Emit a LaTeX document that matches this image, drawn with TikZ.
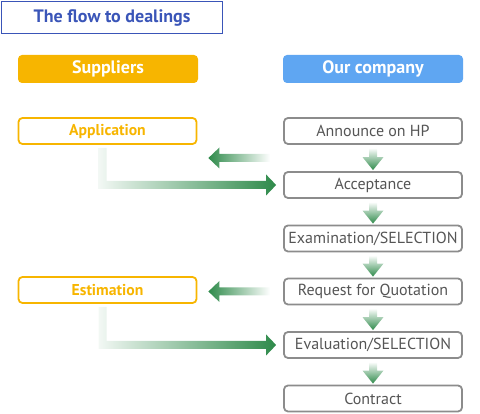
\documentclass[tikz,border=0pt]{standalone}
\usepackage{fontspec}
\setmainfont{PT Sans}
\usepackage{tikz}
\usetikzlibrary{calc}
\definecolor{titleblue}{HTML}{3A55B8}
\definecolor{supporange}{HTML}{F7B500}
\definecolor{comblue}{HTML}{5FA6F2}
\definecolor{boxgray}{HTML}{8C8C8C}
\definecolor{textgray}{HTML}{555555}
\definecolor{flowgreen}{HTML}{2E8A4A}
\tikzset{ head_box/.style = {rectangle, rounded corners=4pt, minimum width=180pt, minimum height=28pt, text=white, font=\fontsize{18}{20}\selectfont\bfseries} }
\tikzset{ supp_box/.style = {rectangle, rounded corners=4pt, draw=supporange, line width=1.8pt, minimum width=178pt, minimum height=26pt, text=supporange, font=\fontsize{15.7}{18}\selectfont\bfseries} }
\tikzset{ our_box/.style = {rectangle, rounded corners=4pt, draw=boxgray, line width=1.8pt, minimum width=178pt, minimum height=26pt, text=textgray, font=\fontsize{16}{18}\selectfont} }
% shaded arrows, drawn as filled outlines
\newcommand{\flowdown}[2]{%
  \shade[top color=white, middle color=flowgreen!90, bottom color=flowgreen]
    ($(#1.south)+(-4,3)$) -- ($(#1.south)+(4,3)$) -- ($(#2.north)+(4,-14)$) -- ($(#2.north)+(10.5,-14)$)
    -- ($(#2.north)+(0,-1)$) -- ($(#2.north)+(-10.5,-14)$) -- ($(#2.north)+(-4,-14)$) -- cycle;}
\newcommand{\flowleft}[2]{%
  \shade[left color=flowgreen, middle color=flowgreen!80, right color=white]
    ($(#1)+(0,-4)$) -- ($(#2)+(11,-4)$) -- ($(#2)+(11,-10.5)$) -- (#2)
    -- ($(#2)+(11,10.5)$) -- ($(#2)+(11,4)$) -- ($(#1)+(0,4)$) -- cycle;}
\newcommand{\flowbend}[2]{%
  \shade[left color=flowgreen!6, middle color=flowgreen!55, right color=flowgreen]
    ($(#1)+(-4,0)$) -- ($(#1)+(4,0)$) |- ($(#2)+(-10,-4)$) -- ($(#2)+(-10,-10.5)$) -- (#2)
    -- ($(#2)+(-10,10.5)$) -- ($(#2)+(-10,4)$) -| cycle;}

\begin{document}
\begin{tikzpicture}[x=1pt, y=-1pt]
    \useasboundingbox (0,0) rectangle (480,414);
    \node [draw=titleblue, line width=1.5pt, minimum width=221pt, minimum height=32pt, text=titleblue, font=\fontsize{18}{20}\selectfont\bfseries] (title) at (112, 17.5) {The flow to dealings};
    \node [head_box, fill=supporange] (supp) at (108, 69) {Suppliers};
    \node [head_box, fill=comblue] (comp) at (373, 69) {Our company};
    \node [supp_box] (app) at (107.5, 131) {Application};
    \node [supp_box] (est) at (107.5, 290) {Estimation};
    \node [our_box] (ann) at (373, 131) {Announce on HP};
    \node [our_box] (acc) at (373, 185) {Acceptance};
    \node [our_box] (exam) at (373, 238.5) {Examination/SELECTION};
    \node [our_box] (req) at (373, 291.5) {Request for Quotation};
    \node [our_box] (eval) at (373, 345) {Evaluation/SELECTION};
    \node [our_box] (cont) at (373, 398.5) {Contract};
    % points for the side arrows
    \coordinate (l1) at ($(ann.south west)!0.5!(acc.north west)$);
    \coordinate (l1tail) at ($(l1)+(-13,0)$);
    \coordinate (l1tip) at ($(app.east |- l1)+(11,0)$);
    \coordinate (l2tail) at ($(req.west)+(-13,0)$);
    \coordinate (l2tip) at ($(est.east |- req.west)+(11,0)$);
    \coordinate (b1start) at ($(app.south)+(-5,3)$);
    \coordinate (b1tip) at ($(acc.west)+(-7,0)$);
    \coordinate (b2start) at ($(est.south)+(-5,3)$);
    \coordinate (b2tip) at ($(eval.west)+(-7,0)$);
    \flowleft{l1tail}{l1tip}
    \flowleft{l2tail}{l2tip}
    \flowbend{b1start}{b1tip}
    \flowbend{b2start}{b2tip}
    \flowdown{ann}{acc}
    \flowdown{acc}{exam}
    \flowdown{exam}{req}
    \flowdown{req}{eval}
    \flowdown{eval}{cont}
\end{tikzpicture}
\end{document}
